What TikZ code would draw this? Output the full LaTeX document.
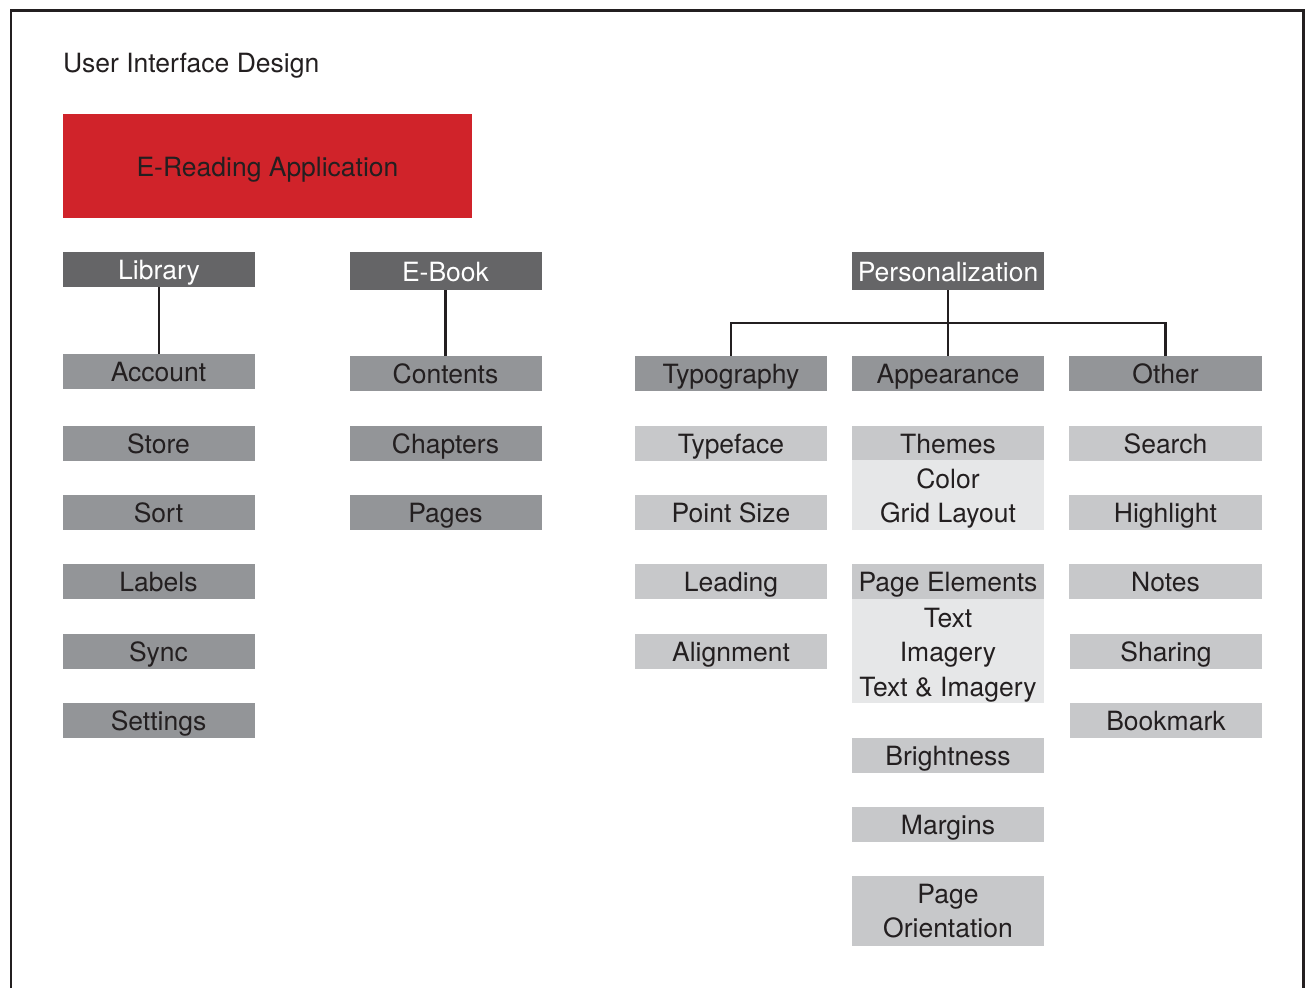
\documentclass[tikz,border=0pt]{standalone}
\usepackage{fontspec}
\setmainfont{TeX Gyre Heros}
\definecolor{appred}{HTML}{D0232A}
\definecolor{darkg}{HTML}{656567}
\definecolor{midg}{HTML}{939598}
\definecolor{lightg}{HTML}{C7C8CA}
\definecolor{paleg}{HTML}{E6E7E8}
\definecolor{ink}{HTML}{231F20}
\newcommand{\topstrut}{\rule{0pt}{27pt}}
\begin{document}
\begin{tikzpicture}[x=1pt,y=-1pt,
  every node/.style={inner sep=0pt, outer sep=0pt, font=\fontsize{26.5}{34.5}\selectfont},
  boxbase/.style={rectangle, minimum width=192pt, minimum height=35pt, text height=21pt, text depth=1pt, text=ink, align=center},
  headbox/.style={boxbase, fill=darkg, text=white},
  subbox/.style={boxbase, fill=midg},
  leafbox/.style={boxbase, fill=lightg},
  palebox/.style={rectangle, minimum width=192pt, fill=paleg, text=ink, align=center},
  multibox/.style={rectangle, minimum width=192pt, fill=lightg, text=ink, align=center},
  link/.style={draw=ink, line width=2.2pt}
]
\useasboundingbox (0,0) rectangle (1309,988);
\draw[ink, line width=2.6pt] (11,988) -- (11,10.5) -- (1303.5,10.5) -- (1303.5,988);

\node[anchor=base west, text=ink] (title) at (63,72) {User Interface Design};
\node[rectangle, fill=appred, minimum width=409pt, minimum height=104pt, text height=22pt, text depth=1pt, text=ink] (app) at (267.5,166) {E-Reading Application};

% Library column
\node[headbox] (lib) at (159,269.5) {Library};
\node[subbox] (acc) at (158.5,371.5) {Account};
\node[subbox] (store) at (158.5,443.5) {Store};
\node[subbox] (sort) at (158.5,512.5) {Sort};
\node[subbox] (labels) at (158.5,581.5) {Labels};
\node[subbox] (sync) at (158.5,651.5) {Sync};
\node[subbox] (settings) at (158.5,720.5) {Settings};
\draw[link] (lib.south) -- (lib.south |- acc.north);

% E-Book column
\node[headbox, minimum height=38pt] (ebook) at (445.5,271) {E-Book};
\node[subbox] (contents) at (445.5,373.5) {Contents};
\node[subbox] (chapters) at (445.5,443.5) {Chapters};
\node[subbox] (pages) at (445.5,512.5) {Pages};
\draw[link] (ebook.south) -- (contents.north);

% Personalization
\node[headbox, minimum height=38pt] (pers) at (948,271) {Personalization};
\node[subbox] (typo) at (731,373.5) {Typography};
\node[subbox] (appear) at (948,373.5) {Appearance};
\node[subbox, minimum width=193pt] (other) at (1165.5,373.5) {Other};
\coordinate (bar) at (948,323);
\draw[link] (pers.south) -- (appear.north);
\draw[link] (typo.north) |- (bar) -| (other.north);

% Typography column
\node[leafbox] (typeface) at (731,443.5) {Typeface};
\node[leafbox] (pointsize) at (731,512.5) {Point Size};
\node[leafbox] (leading) at (731,581.5) {Leading};
\node[leafbox] (align) at (731,651.5) {Alignment};

% Appearance column
\node[leafbox, minimum height=34pt] (themes) at (948,443) {Themes};
\node[palebox, minimum height=70pt, anchor=north] (themesub) at (948,460) {\topstrut Color\\Grid Layout};
\node[leafbox] (pageel) at (948,581.5) {Page Elements};
\node[palebox, minimum height=104pt, anchor=north] (pagesub) at (948,599) {\topstrut Text\\Imagery\\Text \& Imagery};
\node[leafbox] (bright) at (948,755.5) {Brightness};
\node[leafbox] (margins) at (948,824.5) {Margins};
\node[multibox, minimum height=70pt] (orient) at (948,911) {Page\\Orientation};

% Other column
\node[leafbox, minimum width=193pt] (search) at (1165.5,443.5) {Search};
\node[leafbox, minimum width=193pt] (highlight) at (1165.5,512.5) {Highlight};
\node[leafbox, minimum width=193pt] (notes) at (1165.5,581.5) {Notes};
\node[leafbox] (sharing) at (1166,651.5) {Sharing};
\node[leafbox] (bookmark) at (1166,720.5) {Bookmark};
\end{tikzpicture}
\end{document}
